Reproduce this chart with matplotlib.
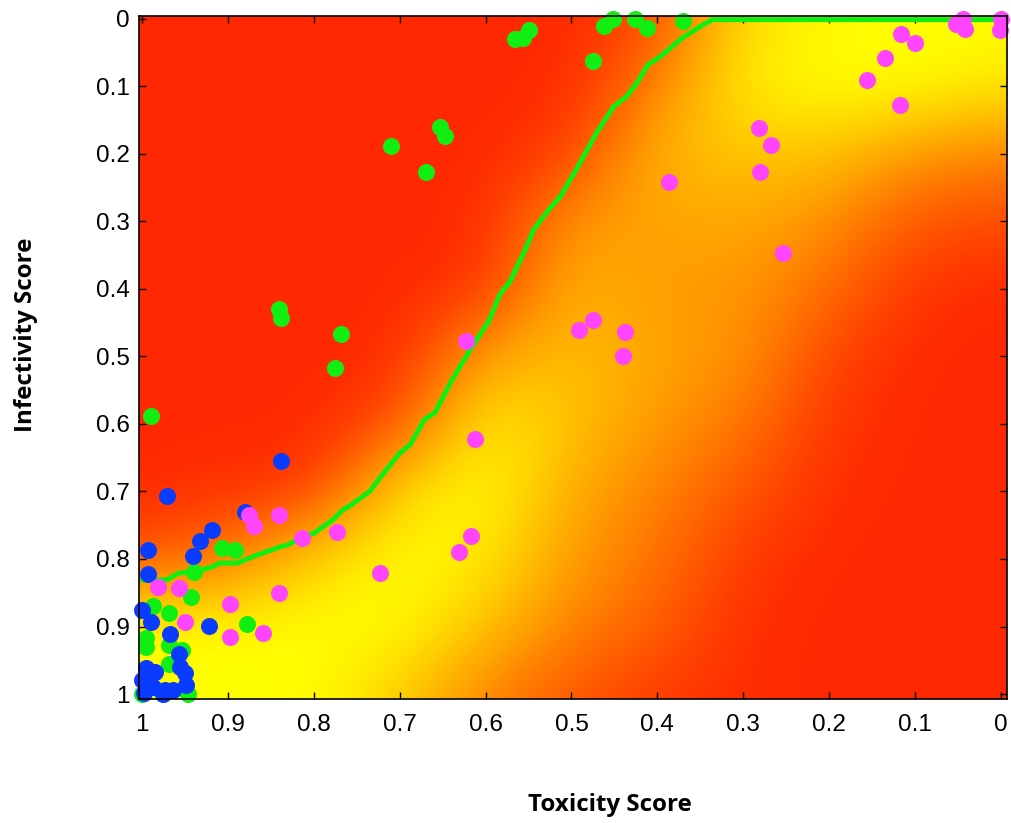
import numpy as np
import matplotlib
matplotlib.use("Agg")
import matplotlib.pyplot as plt
from matplotlib.colors import LinearSegmentedColormap

# background score surface, sampled on a 0.1 grid (0 = red, 1 = yellow)
grid_tox = [1.0, 0.9, 0.8, 0.7, 0.6, 0.5, 0.4, 0.3, 0.2, 0.1, 0.0]
grid_inf = [0.0, 0.1, 0.2, 0.3, 0.4, 0.5, 0.6, 0.7, 0.8, 0.9, 1.0]
surface = [
    [0.00, 0.00, 0.00, 0.00, 0.00, 0.00, 0.15, 0.85, 0.97, 1.00, 1.00],
    [0.00, 0.00, 0.00, 0.00, 0.00, 0.00, 0.40, 0.92, 1.00, 1.00, 0.88],
    [0.00, 0.00, 0.00, 0.00, 0.00, 0.10, 0.65, 0.72, 0.70, 0.48, 0.40],
    [0.00, 0.00, 0.00, 0.00, 0.00, 0.50, 0.55, 0.58, 0.45, 0.20, 0.15],
    [0.00, 0.00, 0.00, 0.00, 0.05, 0.65, 0.50, 0.50, 0.30, 0.05, 0.00],
    [0.00, 0.00, 0.00, 0.00, 0.55, 0.70, 0.55, 0.48, 0.12, 0.00, 0.00],
    [0.00, 0.00, 0.00, 0.15, 0.95, 0.70, 0.50, 0.35, 0.05, 0.00, 0.00],
    [0.00, 0.05, 0.05, 0.85, 1.00, 0.58, 0.40, 0.20, 0.02, 0.00, 0.00],
    [0.20, 0.35, 0.80, 1.00, 0.90, 0.50, 0.33, 0.07, 0.00, 0.00, 0.00],
    [1.00, 1.00, 1.00, 1.00, 0.70, 0.40, 0.25, 0.02, 0.00, 0.00, 0.00],
    [1.00, 1.00, 1.00, 0.75, 0.40, 0.20, 0.08, 0.02, 0.00, 0.00, 0.00],
]

# decision boundary
bound_tox = [0.999, 0.971, 0.958, 0.941, 0.921, 0.909, 0.889, 0.878, 0.859, 0.839,
             0.830, 0.820, 0.799, 0.778, 0.766, 0.758, 0.735, 0.720, 0.700, 0.688,
             0.671, 0.659, 0.641, 0.618, 0.596, 0.583, 0.572, 0.554, 0.544, 0.528,
             0.513, 0.494, 0.471, 0.451, 0.436, 0.424, 0.411, 0.397, 0.372, 0.350,
             0.336, 0.0]
bound_inf = [0.831, 0.831, 0.821, 0.819, 0.813, 0.806, 0.806, 0.800, 0.791, 0.782,
             0.779, 0.772, 0.761, 0.742, 0.727, 0.721, 0.700, 0.675, 0.643, 0.631,
             0.593, 0.583, 0.539, 0.490, 0.447, 0.407, 0.390, 0.342, 0.312, 0.285,
             0.263, 0.222, 0.169, 0.130, 0.115, 0.095, 0.068, 0.056, 0.029, 0.011,
             0.001, 0.001]

green_tox = [0.452, 0.462, 0.426, 0.412, 0.370, 0.475, 0.566, 0.556, 0.550, 0.653,
             0.647, 0.710, 0.669, 0.841, 0.838, 0.768, 0.775, 0.990, 0.907, 0.892,
             0.940, 0.943, 0.987, 0.969, 0.878, 0.995, 0.995, 0.969, 0.954, 0.969,
             1.000, 0.975, 0.946]
green_inf = [0.000, 0.010, 0.000, 0.014, 0.003, 0.063, 0.029, 0.028, 0.016, 0.160,
             0.173, 0.188, 0.226, 0.430, 0.443, 0.467, 0.517, 0.588, 0.784, 0.787,
             0.819, 0.856, 0.870, 0.880, 0.896, 0.917, 0.930, 0.927, 0.935, 0.955,
             1.000, 1.000, 1.000]

blue_tox = [0.971, 0.880, 0.918, 0.932, 0.941, 0.993, 0.993, 1.000, 0.990, 0.922,
            0.967, 0.957, 0.950, 0.949, 0.995, 0.985, 1.000, 0.987, 0.973, 0.964,
            0.975, 0.956, 0.998, 0.838]
blue_inf = [0.707, 0.730, 0.757, 0.774, 0.796, 0.787, 0.822, 0.875, 0.894, 0.899,
            0.911, 0.941, 0.969, 0.987, 0.962, 0.967, 0.979, 0.989, 0.994, 0.994,
            1.000, 0.960, 0.999, 0.655]

pink_tox = [0.876, 0.870, 0.841, 0.814, 0.773, 0.981, 0.957, 0.897, 0.841, 0.950,
            0.897, 0.859, 0.723, 0.623, 0.612, 0.617, 0.631, 0.117, 0.282, 0.268,
            0.280, 0.387, 0.254, 0.475, 0.491, 0.438, 0.440, 0.116, 0.100, 0.135,
            0.156, 0.044, 0.052, 0.042, 0.000, 0.001]
pink_inf = [0.735, 0.751, 0.735, 0.769, 0.760, 0.842, 0.843, 0.867, 0.851, 0.893,
            0.916, 0.909, 0.821, 0.477, 0.622, 0.766, 0.790, 0.127, 0.162, 0.186,
            0.227, 0.242, 0.346, 0.446, 0.461, 0.464, 0.499, 0.022, 0.035, 0.058,
            0.090, 0.000, 0.007, 0.015, 0.000, 0.016]

ticks = [1.0, 0.9, 0.8, 0.7, 0.6, 0.5, 0.4, 0.3, 0.2, 0.1, 0.0]
tick_labels = ["1", "0.9", "0.8", "0.7", "0.6", "0.5", "0.4", "0.3", "0.2", "0.1", "0"]

cmap = LinearSegmentedColormap.from_list("ry", [(1.0, 0.16, 0.0), (1.0, 0.6, 0.0), (1.0, 1.0, 0.0)])

fig = plt.figure(figsize=(10.12, 8.23), dpi=100)
ax = fig.add_axes([139 / 1012, 1 - 699 / 823, 868 / 1012, 683 / 823])

step = 0.1
ax.imshow(np.array(surface), cmap=cmap, vmin=0, vmax=1, interpolation="bicubic",
          origin="upper", aspect="auto",
          extent=(grid_tox[0] + step / 2, grid_tox[-1] - step / 2,
                  grid_inf[-1] + step / 2, grid_inf[0] - step / 2))

ax.plot(bound_tox, bound_inf, color="#11ee11", lw=3.6, solid_joinstyle="round", zorder=3)

dot = dict(s=150, linewidths=0, clip_on=False, zorder=4)
ax.scatter(green_tox, green_inf, color="#11ee11", **dot)
ax.scatter(blue_tox, blue_inf, color="#0a3cff", **dot)
ax.scatter(pink_tox, pink_inf, color="#ff44ff", **dot)

ax.set_xlim(1.0035, -0.007)
ax.set_ylim(1.0074, -0.0044)
ax.set_xticks(ticks)
ax.set_xticklabels(tick_labels)
ax.set_yticks(ticks)
ax.set_yticklabels(tick_labels)
ax.tick_params(direction="in", length=5, width=1, top=True, right=True,
               labelsize=17.5, colors="black")
ax.tick_params(axis="x", pad=11)
ax.tick_params(axis="y", pad=6.5)
for lab in ax.get_xticklabels() + ax.get_yticklabels():
    lab.set_fontfamily("Liberation Sans")
for sp in ax.spines.values():
    sp.set_linewidth(1.2)
    sp.set_zorder(5)

fig.text(610 / 1012, 1 - 805 / 823, "Toxicity Score", ha="center", va="center",
         fontsize=17.4, fontweight="bold", family="Open Sans")
fig.text(26 / 1012, 1 - 335 / 823, "Infectivity Score", ha="center", va="center",
         rotation=90, fontsize=17.4, fontweight="bold", family="Open Sans")

fig.savefig("out.png", dpi=100)
